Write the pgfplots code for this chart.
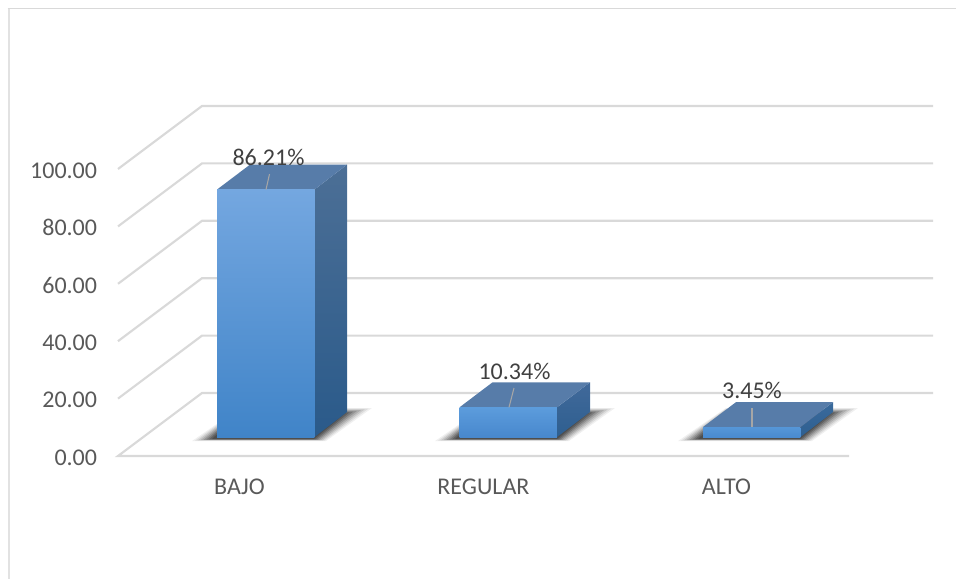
\documentclass[border=0pt]{standalone}
\usepackage{pgfplots}
\usepackage{pgfplotstable}
\usepackage{fontspec}
\setmainfont{Carlito}
\pgfplotsset{compat=1.18}
\definecolor{gridc}{HTML}{D9D9D9}
\definecolor{framec}{HTML}{E2E2E2}
\definecolor{tickc}{HTML}{595959}
\definecolor{labc}{HTML}{404040}
\definecolor{topc}{HTML}{577CA9}
\definecolor{leadc}{HTML}{A6A6A6}
\definecolor{sideAt}{HTML}{4C6F96}
\definecolor{sideAb}{HTML}{2A5A8A}
\definecolor{sideBt}{HTML}{41699A}
\definecolor{sideBb}{HTML}{2E5F90}
\definecolor{sideCt}{HTML}{3A6A9C}
\definecolor{frontAt}{HTML}{74A7E0}
\definecolor{frontAb}{HTML}{4084C8}
\definecolor{frontBt}{HTML}{5C9CDC}
\definecolor{frontBb}{HTML}{4888CD}
\definecolor{frontCt}{HTML}{5596D8}
\definecolor{frontCb}{HTML}{4A8BD0}
% shadow layers on the floor (x in pixels, y in chart units above the bar base)
\pgfplotstableread{
x y
192 -1.40
326 -1.40
372 10.10
240 10.10
}\layerA
\pgfplotstableread{
x y
194.9 -1.30
324.3 -1.30
368.3 9.85
240 9.85
}\layerB
\pgfplotstableread{
x y
197.7 -1.20
322.6 -1.20
364.6 9.60
240 9.60
}\layerC
\pgfplotstableread{
x y
200.6 -1.10
320.9 -1.10
360.9 9.35
240 9.35
}\layerD
\pgfplotstableread{
x y
203.4 -1.00
319.1 -1.00
357.1 9.11
240 9.11
}\layerE
\pgfplotstableread{
x y
206.3 -0.90
317.4 -0.90
353.4 8.86
240 8.86
}\layerF
\pgfplotstableread{
x y
209.1 -0.80
315.7 -0.80
349.7 8.61
240 8.61
}\layerG
\pgfplotstableread{
x y
212 -0.70
314 -0.70
346 8.36
240 8.36
}\layerH
\begin{document}
\begin{tikzpicture}
\path[use as bounding box] (0,0) rectangle (717pt,434.25pt);
\draw[framec,line width=1.9pt] (6.6pt,0pt) -- (6.6pt,428.2pt);
\draw[gridc,line width=0.7pt] (5.7pt,428.2pt) -- (717pt,428.2pt);
% axis with the walls and the scale
\begin{axis}[
  at={(88.5pt,92.25pt)}, anchor=south west,
  scale only axis, x=0.75pt, y=2.1525pt,
  xmin=118, xmax=849, ymin=0, ymax=100,
  clip=false,
  axis line style={draw=none}, tick style={draw=none},
  xtick={240,484,727}, xticklabels={BAJO,REGULAR,ALTO},
  ytick={0,20,40,60,80,100},
  xtick pos=bottom, ytick pos=left,
  tick label style={font=\fontsize{18}{20}\selectfont, text=tickc},
  yticklabel style={anchor=east, inner sep=0pt, xshift=-15.5pt, yshift=-1pt,
    /pgf/number format/.cd, fixed, fixed zerofill, precision=2, assume math mode=true},
  xticklabel style={anchor=center, inner sep=0pt, xshift=-0.4pt, yshift=-23.2pt},
]
\addplot[gridc, line width=1.6pt] coordinates {(849,0) (118,0) (202,21.95) (933,21.95)};
\addplot[gridc, line width=1.6pt] coordinates {(118,20) (202,41.95) (933,41.95)};
\addplot[gridc, line width=1.6pt] coordinates {(118,40) (202,61.95) (933,61.95)};
\addplot[gridc, line width=1.6pt] coordinates {(118,60) (202,81.95) (933,81.95)};
\addplot[gridc, line width=1.6pt] coordinates {(118,80) (202,101.95) (933,101.95)};
\addplot[gridc, line width=1.6pt] coordinates {(118,100) (202,121.95) (933,121.95)};
\end{axis}
% axis with the bars, its zero on the line where the bars stand
\begin{axis}[
  at={(88.5pt,106.5pt)}, anchor=south west,
  scale only axis, x=0.75pt, y=2.1525pt,
  xmin=118, xmax=849, ymin=0, ymax=100,
  clip=false, hide axis,
]
\pgfplotsinvokeforeach{0,243,486}{
  \addplot[draw=none, fill=black, opacity=0.06] table[x expr=\thisrow{x}+#1, y=y] {\layerA} --cycle;
  \addplot[draw=none, fill=black, opacity=0.08] table[x expr=\thisrow{x}+#1, y=y] {\layerB} --cycle;
  \addplot[draw=none, fill=black, opacity=0.10] table[x expr=\thisrow{x}+#1, y=y] {\layerC} --cycle;
  \addplot[draw=none, fill=black, opacity=0.12] table[x expr=\thisrow{x}+#1, y=y] {\layerD} --cycle;
  \addplot[draw=none, fill=black, opacity=0.15] table[x expr=\thisrow{x}+#1, y=y] {\layerE} --cycle;
  \addplot[draw=none, fill=black, opacity=0.18] table[x expr=\thisrow{x}+#1, y=y] {\layerF} --cycle;
  \addplot[draw=none, fill=black, opacity=0.20] table[x expr=\thisrow{x}+#1, y=y] {\layerG} --cycle;
  \addplot[draw=none, fill=black, opacity=0.20] table[x expr=\thisrow{x}+#1, y=y] {\layerH} --cycle;
}
% side faces
\addplot[draw=none, top color=sideAt, bottom color=sideAb] coordinates {(314.5,0) (347,8.7) (347,94.91) (314.5,86.21)} --cycle;
\addplot[draw=none, top color=sideBt, bottom color=sideBb] coordinates {(557,0) (590,8.7) (590,19.04) (557,10.34)} --cycle;
\addplot[draw=none, top color=sideCt, bottom color=sideBb] coordinates {(800.5,0) (833,8.7) (833,12.15) (800.5,3.45)} --cycle;
% top faces
\addplot[draw=none, fill=topc] coordinates {(217,86.21) (314.5,86.21) (347,94.91) (250,94.91)} --cycle;
\addplot[draw=none, fill=topc] coordinates {(459.5,10.34) (557,10.34) (590,19.04) (492.5,19.04)} --cycle;
\addplot[draw=none, fill=topc] coordinates {(703,3.45) (800.5,3.45) (833,12.15) (736,12.15)} --cycle;
% front faces
\addplot[ybar, bar width=73.1pt, bar shift=0pt, draw=none, top color=frontAt, bottom color=frontAb] coordinates {(265.75,86.21)};
\addplot[ybar, bar width=73.1pt, bar shift=0pt, draw=none, top color=frontBt, bottom color=frontBb] coordinates {(508.25,10.34)};
\addplot[ybar, bar width=73.1pt, bar shift=0pt, draw=none, top color=frontCt, bottom color=frontCb] coordinates {(751.75,3.45)};
% leader lines
\addplot[leadc, line width=0.8pt] coordinates {(266,86.21) (269.5,91.6)};
\addplot[leadc, line width=0.8pt] coordinates {(509,10.34) (514,17.07)};
\addplot[leadc, line width=0.8pt] coordinates {(752,3.45) (752,10.1)};
\node[text=labc, font=\fontsize{18}{20}\selectfont, inner sep=0pt] at (axis cs:268.5,97.5) {86.21\%};
\node[text=labc, font=\fontsize{18}{20}\selectfont, inner sep=0pt] at (axis cs:514.5,22.8) {10.34\%};
\node[text=labc, font=\fontsize{18}{20}\selectfont, inner sep=0pt] at (axis cs:752,16.1) {3.45\%};
\end{axis}
\end{tikzpicture}
\end{document}
